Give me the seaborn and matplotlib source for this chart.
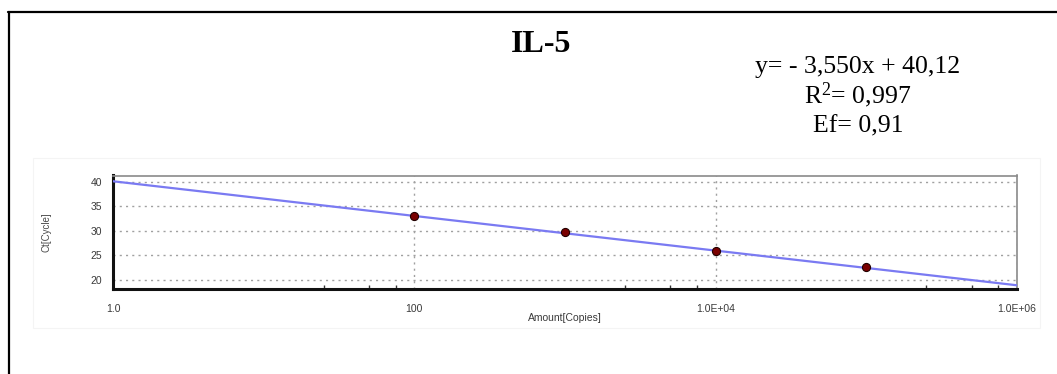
import matplotlib
matplotlib.use("Agg")
import matplotlib.pyplot as plt
import matplotlib.ticker as mticker
from matplotlib.lines import Line2D
from matplotlib.patches import Rectangle
import seaborn as sns
import pandas as pd

# ---- data ----
amounts = [100, 1000, 10000, 100000]        # copies
ct_values = [33.1, 29.8, 25.8, 22.5]        # Ct [cycle]
fit_x = [1.0, 1.0e6]                        # regression line end points
fit_y = [40.12, 18.82]
x_ticks = [1, 100, 1e4, 1e6]
x_tick_labels = ["1.0", "100", "1.0E+04", "1.0E+06"]
x_minor = [25, 50, 75, 2500, 5000, 7500, 250000, 500000, 750000]
y_ticks = [20, 25, 30, 35, 40]
title = "IL-5"
eq_lines = ["y= - 3,550x + 40,12", "R$^{2}$= 0,997", "Ef= 0,91"]

W, H = 1057, 374
sns.set_style("white")
plt.rcParams["mathtext.fontset"] = "custom"
plt.rcParams["mathtext.rm"] = "Liberation Serif"
plt.rcParams["mathtext.it"] = "Liberation Serif:italic"
plt.rcParams["mathtext.bf"] = "Liberation Serif:bold"

fig = plt.figure(figsize=(W / 100, H / 100), dpi=100)
fig.patch.set_facecolor("white")

# axes placement (pixels -> figure fraction)
left_px, right_px, top_px, bot_px = 113, 1017, 175.5, 288.8
ax = fig.add_axes([left_px / W, 1 - bot_px / H, (right_px - left_px) / W, (bot_px - top_px) / H])

df_pts = pd.DataFrame({"amount": amounts, "ct": ct_values})
df_fit = pd.DataFrame({"amount": fit_x, "ct": fit_y})

ax.set_xscale("log")
sns.lineplot(data=df_fit, x="amount", y="ct", ax=ax, color="#7a7af2", lw=1.6, zorder=3)
sns.scatterplot(data=df_pts, x="amount", y="ct", ax=ax, color="#7a0000",
                edgecolor="#220000", linewidth=0.8, s=34, zorder=4)

ax.set_xlim(1, 1e6)
ax.set_ylim(18.1, 41.3)

ax.xaxis.set_major_locator(mticker.FixedLocator(x_ticks))
ax.xaxis.set_major_formatter(mticker.FixedFormatter(x_tick_labels))
ax.xaxis.set_minor_locator(mticker.FixedLocator(x_minor))
ax.xaxis.set_minor_formatter(mticker.NullFormatter())
ax.yaxis.set_major_locator(mticker.FixedLocator(y_ticks))

ax.tick_params(axis="x", which="major", length=0, pad=11, labelsize=7.5, labelcolor="#3a3a3a",
               labelfontfamily="Liberation Sans")
ax.tick_params(axis="x", which="minor", length=3, direction="in", width=1.0, color="#333333",
               bottom=True)
ax.tick_params(axis="y", which="major", length=0, pad=8, labelsize=7.5, labelcolor="#3a3a3a",
               labelfontfamily="Liberation Sans")

ax.grid(True, which="major", axis="both", color="#a0a0a0", lw=1.0, linestyle=(0, (1.5, 3)))
ax.set_axisbelow(True)

for side in ["left", "bottom"]:
    ax.spines[side].set_color("#111111")
    ax.spines[side].set_linewidth(2.2)
for side in ["top", "right"]:
    ax.spines[side].set_color("#8a8a8a")
    ax.spines[side].set_linewidth(1.2)

ax.set_xlabel("Amount[Copies]", fontsize=7.5, color="#3a3a3a", family="Liberation Sans")
ax.xaxis.set_label_coords(0.5, (bot_px - 318) / (bot_px - top_px))
ax.xaxis.label.set_va("center")
ax.set_ylabel("Ct[Cycle]", fontsize=7, color="#4a4a4a", family="Liberation Sans")
ax.yaxis.set_label_coords((46 - left_px) / (right_px - left_px), 0.5)
ax.yaxis.label.set_va("center")

# very faint screenshot panel edge
fig.add_artist(Rectangle((33 / W, 1 - 328 / H), (1040 - 33) / W, (328 - 158) / H,
                         transform=fig.transFigure, fill=False, edgecolor="#f4f4f4", lw=0.8))

# outer document frame (top and left)
fig.add_artist(Line2D([8 / W, 1.0], [1 - 12 / H, 1 - 12 / H], transform=fig.transFigure,
                      color="black", lw=1.6))
fig.add_artist(Line2D([8.5 / W, 8.5 / W], [1 - 12 / H, 0.0], transform=fig.transFigure,
                      color="black", lw=1.6))

# title and equation texts
fig.text(541 / W, 1 - 52 / H, title, ha="center", va="baseline", fontsize=23,
         fontweight="bold", family="Liberation Serif", color="black")
for txt, base in zip(eq_lines, [73, 103, 132]):
    fig.text(858 / W, 1 - base / H, txt, ha="center", va="baseline", fontsize=18.5,
             family="Liberation Serif", color="black")

fig.savefig("out.png", dpi=100, facecolor="white")
